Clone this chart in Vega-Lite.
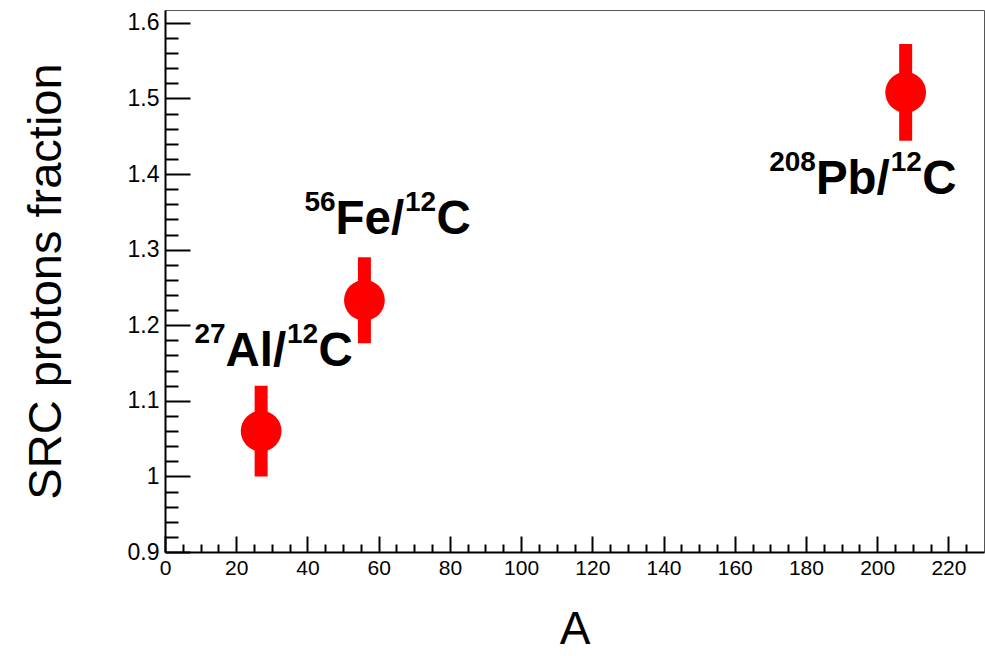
{
  "$schema": "https://vega.github.io/schema/vega-lite/v6.json",
  "width": 819,
  "height": 542,
  "autosize": "none",
  "padding": {"left": 165, "top": 10, "right": 1, "bottom": 104},
  "background": "white",
  "config": {
    "view": {"stroke": "#555555", "strokeWidth": 1},
    "font": "Liberation Sans",
    "axis": {"grid": false}
  },
  "datasets": {
    "points": [
      {"nucleus": "27Al/12C", "A": 27, "fraction": 1.06, "lo": 1.0, "hi": 1.12},
      {"nucleus": "56Fe/12C", "A": 56, "fraction": 1.233, "lo": 1.176, "hi": 1.29},
      {"nucleus": "208Pb/12C", "A": 208, "fraction": 1.508, "lo": 1.444, "hi": 1.572}
    ],
    "labels": [
      {"mass": "27", "el": "Al/", "A": 17.0, "fraction": 1.146},
      {"mass": "56", "el": "Fe/", "A": 47.9, "fraction": 1.321},
      {"mass": "208", "el": "Pb/", "A": 182.8, "fraction": 1.374}
    ]
  },
  "layer": [
    {
      "data": {"name": "points"},
      "mark": {"type": "rule", "color": "#ff0000", "strokeWidth": 13, "strokeCap": "butt"},
      "encoding": {
        "x": {
          "field": "A", "type": "quantitative",
          "scale": {"domain": [0, 230], "nice": false, "zero": false},
          "axis": {
            "orient": "bottom",
            "values": [0, 20, 40, 60, 80, 100, 120, 140, 160, 180, 200, 220],
            "ticks": false, "domainColor": "#000000", "domainWidth": 2,
            "labelFontSize": 21, "labelColor": "#000000", "labelPadding": 5,
            "labelFlush": false, "labelOverlap": false,
            "title": "A", "titleFontSize": 46, "titleFontWeight": "normal",
            "titleColor": "#000000", "titlePadding": 29
          }
        },
        "y": {
          "field": "lo", "type": "quantitative",
          "scale": {"domain": [0.9, 1.617], "nice": false, "zero": false},
          "axis": {
            "orient": "left",
            "values": [0.9, 1, 1.1, 1.2, 1.3, 1.4, 1.5, 1.6],
            "format": "~g",
            "ticks": false, "domainColor": "#000000", "domainWidth": 2,
            "labelFontSize": 23, "labelColor": "#000000", "labelPadding": 6,
            "labelFlush": false, "labelOverlap": false,
            "title": "SRC protons fraction", "titleFontSize": 47, "titleFontWeight": "normal",
            "titleColor": "#000000", "titlePadding": 57
          }
        },
        "y2": {"field": "hi"}
      }
    },
    {
      "data": {"name": "points"},
      "mark": {"type": "point", "shape": "circle", "filled": true, "color": "#ff0000", "opacity": 1, "size": 1662},
      "encoding": {
        "x": {
          "field": "A", "type": "quantitative",
          "axis": {
            "orient": "bottom",
            "values": [0, 20, 40, 60, 80, 100, 120, 140, 160, 180, 200, 220],
            "labels": false, "domain": false, "title": null,
            "tickSize": -16, "tickWidth": 2, "tickColor": "#000000"
          }
        },
        "y": {
          "field": "fraction", "type": "quantitative",
          "axis": {
            "orient": "left",
            "values": [0.9, 1, 1.1, 1.2, 1.3, 1.4, 1.5, 1.6],
            "labels": false, "domain": false, "title": null,
            "tickSize": -25, "tickWidth": 2, "tickColor": "#000000"
          }
        }
      }
    },
    {
      "data": {"name": "labels"},
      "mark": {"type": "text", "align": "right", "baseline": "alphabetic", "fontSize": 28, "fontWeight": "bold", "dy": -23, "color": "#000000"},
      "encoding": {
        "x": {
          "field": "A", "type": "quantitative",
          "axis": {
            "orient": "bottom",
            "values": [5, 10, 15, 25, 30, 35, 45, 50, 55, 65, 70, 75, 85, 90, 95, 105, 110, 115, 125, 130, 135, 145, 150, 155, 165, 170, 175, 185, 190, 195, 205, 210, 215, 225],
            "labels": false, "domain": false, "title": null,
            "tickSize": -8, "tickWidth": 2, "tickColor": "#000000"
          }
        },
        "y": {
          "field": "fraction", "type": "quantitative",
          "axis": {
            "orient": "left",
            "values": [0.92, 0.94, 0.96, 0.98, 1.02, 1.04, 1.06, 1.08, 1.12, 1.14, 1.16, 1.18, 1.22, 1.24, 1.26, 1.28, 1.32, 1.34, 1.36, 1.38, 1.42, 1.44, 1.46, 1.48, 1.52, 1.54, 1.56, 1.58],
            "labels": false, "domain": false, "title": null,
            "tickSize": -13, "tickWidth": 2, "tickColor": "#000000"
          }
        },
        "text": {"field": "mass"}
      }
    },
    {
      "data": {"name": "labels"},
      "mark": {"type": "text", "align": "left", "baseline": "alphabetic", "fontSize": 47.5, "fontWeight": "bold", "color": "#000000"},
      "encoding": {
        "x": {"field": "A", "type": "quantitative", "axis": null},
        "y": {"field": "fraction", "type": "quantitative", "axis": null},
        "text": {"field": "el"}
      }
    },
    {
      "data": {"name": "labels"},
      "mark": {"type": "text", "align": "left", "baseline": "alphabetic", "fontSize": 28, "fontWeight": "bold", "dy": -23, "color": "#000000", "text": "12",
        "dx": {"expr": "datum.el === 'Al/' ? 61.5 : datum.el === 'Fe/' ? 69.4 : 74.7"}},
      "encoding": {
        "x": {"field": "A", "type": "quantitative", "axis": null},
        "y": {"field": "fraction", "type": "quantitative", "axis": null}
      }
    },
    {
      "data": {"name": "labels"},
      "mark": {"type": "text", "align": "left", "baseline": "alphabetic", "fontSize": 47.5, "fontWeight": "bold", "color": "#000000", "text": "C",
        "dx": {"expr": "datum.el === 'Al/' ? 93 : datum.el === 'Fe/' ? 100.9 : 106.2"}},
      "encoding": {
        "x": {"field": "A", "type": "quantitative", "axis": null},
        "y": {"field": "fraction", "type": "quantitative", "axis": null}
      }
    }
  ],
  "resolve": {"axis": {"x": "independent", "y": "independent"}}
}
